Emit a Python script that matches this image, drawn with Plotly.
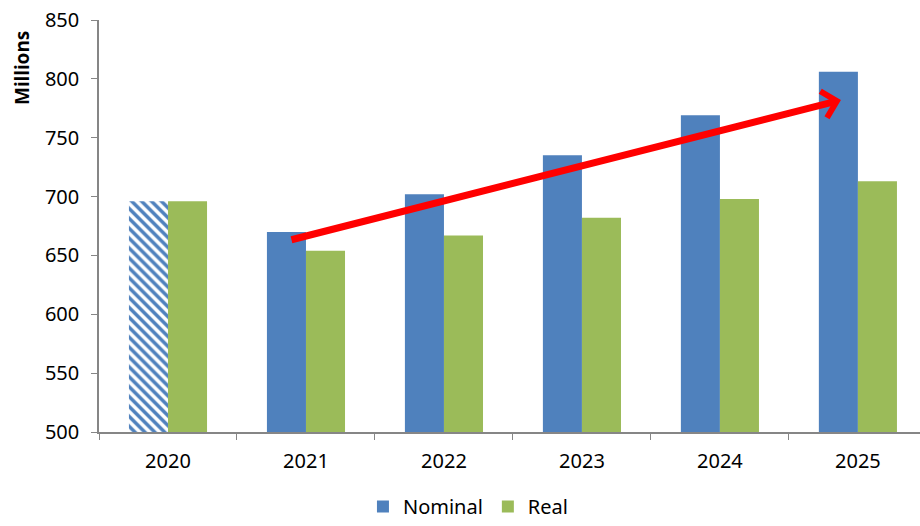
import plotly.graph_objects as go

years = ["2020", "2021", "2022", "2023", "2024", "2025"]
nominal = [696, 670, 702, 735, 769, 806]
real = [696, 654, 667, 682, 698, 713]
nominal_patterns = ["\\", "", "", "", "", ""]

# trend arrow (category index, value)
arrow_tail = (0.884, 663)
arrow_tip = (4.877, 782)

BLUE = "#4F81BD"
GREEN = "#9BBB59"
AXIS = "#868686"
FONT = "Noto Sans"

fig = go.Figure()
fig.add_trace(go.Bar(
    name="Nominal", x=years, y=nominal, offsetgroup="nom", showlegend=False,
    marker=dict(color=BLUE, line=dict(width=0),
                pattern=dict(shape=nominal_patterns, fgcolor=BLUE, bgcolor="white",
                             size=7, solidity=0.5, fillmode="replace")),
))
# legend entry for Nominal shown as a solid swatch
fig.add_trace(go.Bar(
    name="Nominal", x=[years[0]], y=[None], offsetgroup="nom", showlegend=True,
    marker=dict(color=BLUE, line=dict(width=0)), hoverinfo="skip",
))
fig.add_trace(go.Bar(
    name="Real", x=years, y=real, offsetgroup="real",
    marker=dict(color=GREEN, line=dict(width=0)),
))

fig.add_annotation(
    x=arrow_tip[0], y=arrow_tip[1], ax=arrow_tail[0], ay=arrow_tail[1],
    xref="x", yref="y", axref="x", ayref="y",
    text="", showarrow=True, arrowhead=4, arrowsize=0.75, arrowwidth=7,
    arrowcolor="#FF0000", standoff=0, startstandoff=0,
)
fig.add_annotation(
    text="<b>Millions</b>", xref="paper", yref="paper", x=-0.094, y=0.883,
    textangle=-90, showarrow=False, font=dict(size=19, family=FONT, color="black"),
    xanchor="center", yanchor="middle",
)

fig.update_layout(
    width=920, height=526,
    margin=dict(l=99, r=0, t=20, b=94, autoexpand=False),
    paper_bgcolor="white", plot_bgcolor="white",
    barmode="group", bargap=0.434, bargroupgap=0,
    font=dict(family=FONT, size=20, color="black"),
    showlegend=True,
    legend=dict(orientation="h", x=0.45, xanchor="center", yref="container",
                y=-0.016, yanchor="bottom",
                font=dict(size=20), traceorder="normal", itemwidth=30),
)
fig.update_xaxes(
    type="category", range=[-0.5, 5.45], tickson="boundaries",
    ticks="outside", ticklen=6, tickcolor=AXIS, tickwidth=1,
    showline=True, linecolor=AXIS, linewidth=1.5, showgrid=False,
    ticklabelstandoff=10, tickfont=dict(size=20), automargin=False,
)
fig.update_yaxes(
    range=[500, 850], dtick=50, ticks="outside", ticklen=6, tickcolor=AXIS,
    showline=True, linecolor=AXIS, linewidth=1.5, showgrid=False, zeroline=False,
    ticklabelstandoff=8, tickfont=dict(size=20), automargin=False,
)

fig.write_html("out.html")
